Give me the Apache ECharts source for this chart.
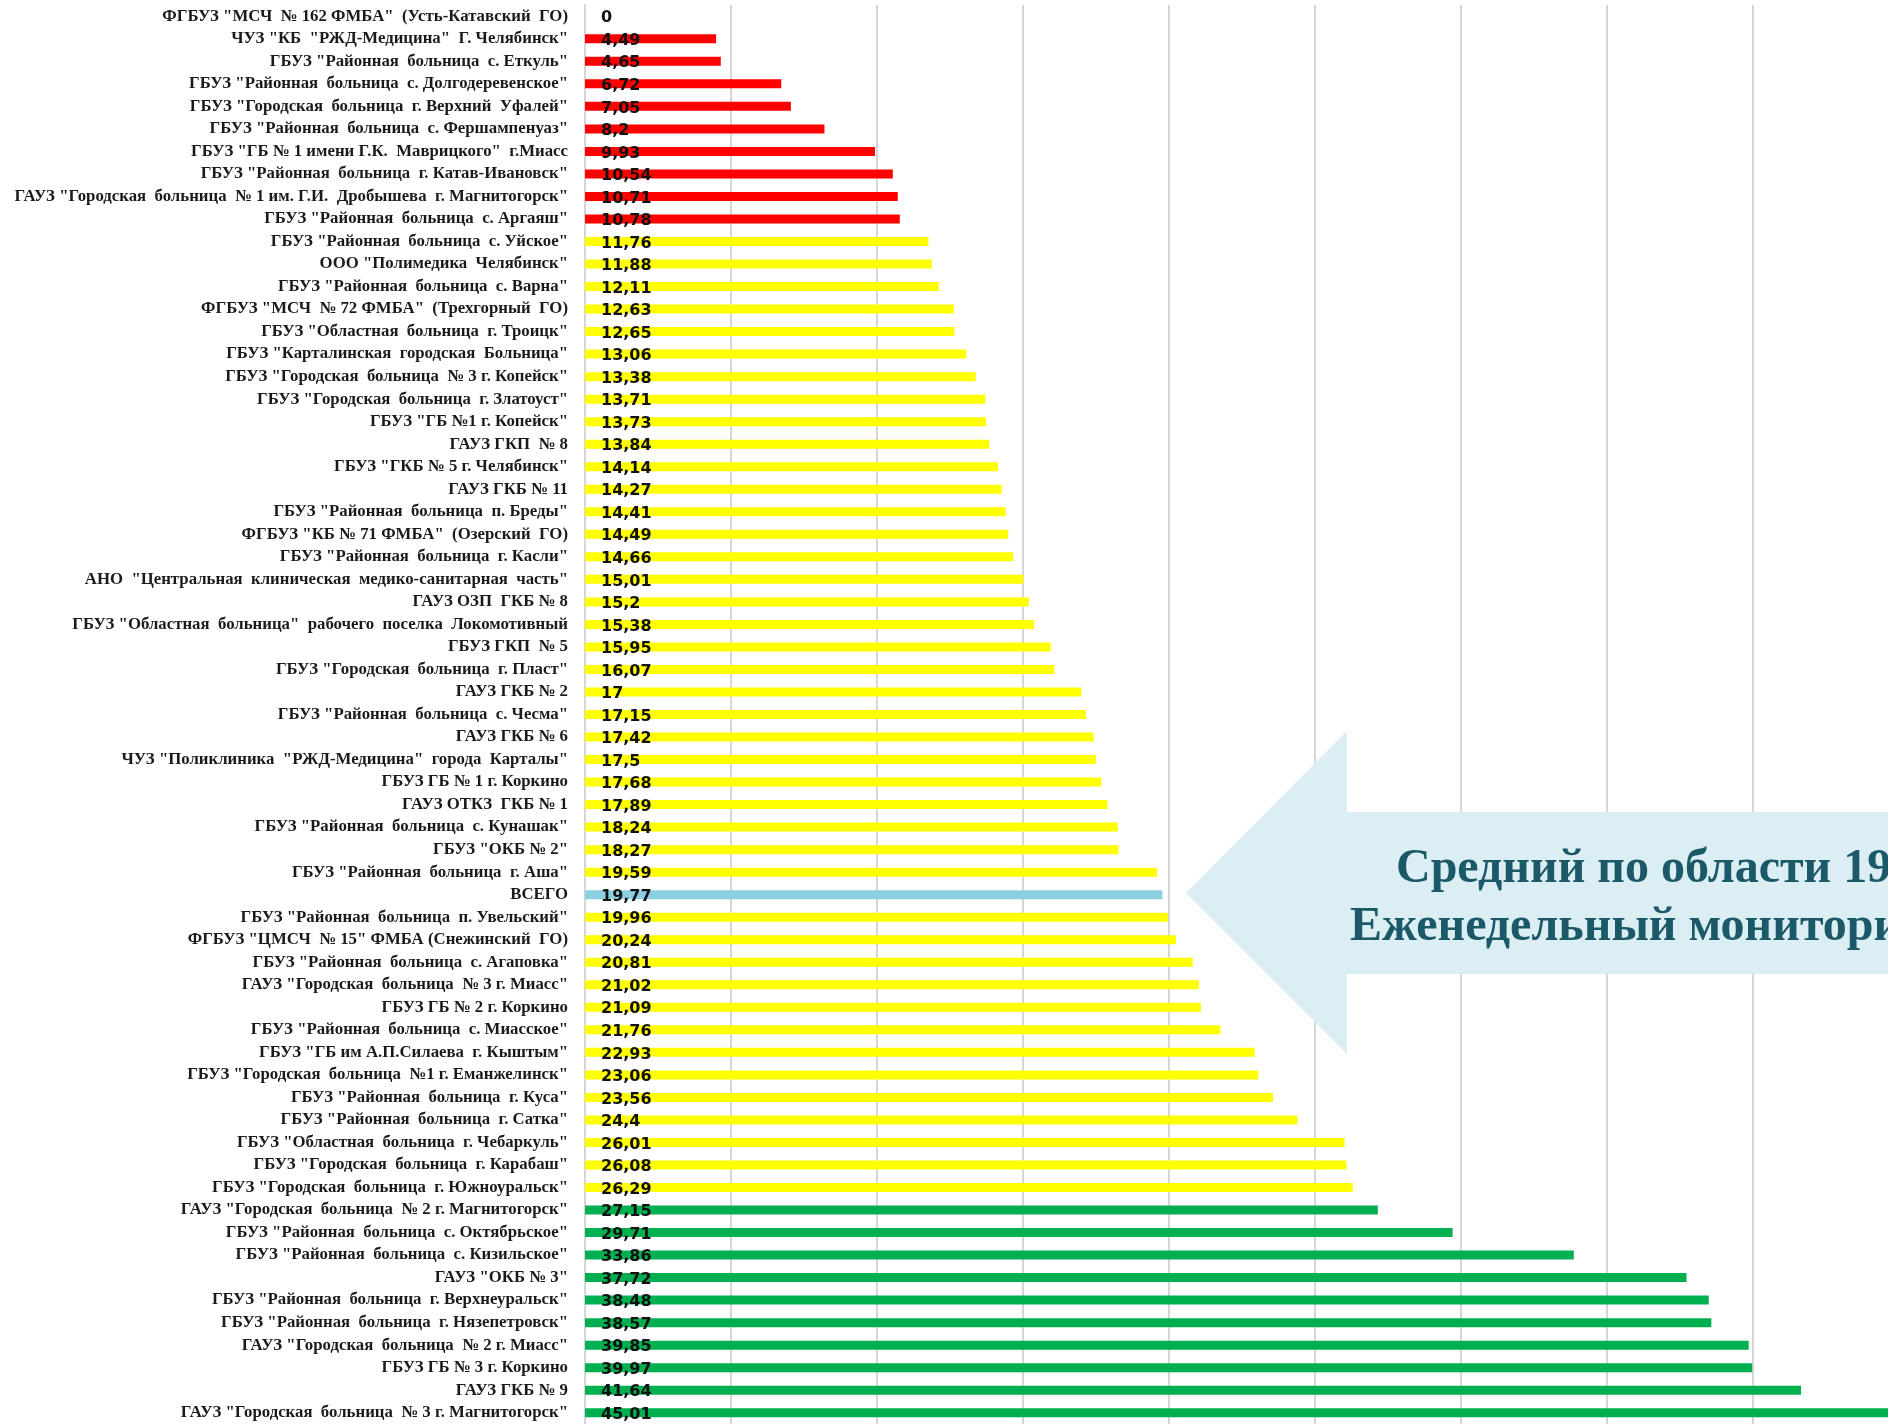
<!DOCTYPE html>
<html>
<head>
<meta charset="utf-8">
<script src="https://cdn.jsdelivr.net/npm/echarts@6/dist/echarts.min.js"></script>
<style>
  html, body { margin: 0; padding: 0; background: #fff; }
  #chart { width: 1888px; height: 1424px; }
</style>
</head>
<body>
<div id="chart"></div>
<script>
// categories, top to bottom
const hospitals = [
  'ФГБУЗ "МСЧ  № 162 ФМБА"  (Усть-Катавский  ГО)',
  'ЧУЗ "КБ  "РЖД-Медицина"  Г. Челябинск"',
  'ГБУЗ "Районная  больница  с. Еткуль"',
  'ГБУЗ "Районная  больница  с. Долгодеревенское"',
  'ГБУЗ "Городская  больница  г. Верхний  Уфалей"',
  'ГБУЗ "Районная  больница  с. Фершампенуаз"',
  'ГБУЗ "ГБ № 1 имени Г.К.  Маврицкого"  г.Миасс',
  'ГБУЗ "Районная  больница  г. Катав-Ивановск"',
  'ГАУЗ "Городская  больница  № 1 им. Г.И.  Дробышева  г. Магнитогорск"',
  'ГБУЗ "Районная  больница  с. Аргаяш"',
  'ГБУЗ "Районная  больница  с. Уйское"',
  'ООО "Полимедика  Челябинск"',
  'ГБУЗ "Районная  больница  с. Варна"',
  'ФГБУЗ "МСЧ  № 72 ФМБА"  (Трехгорный  ГО)',
  'ГБУЗ "Областная  больница  г. Троицк"',
  'ГБУЗ "Карталинская  городская  Больница"',
  'ГБУЗ "Городская  больница  № 3 г. Копейск"',
  'ГБУЗ "Городская  больница  г. Златоуст"',
  'ГБУЗ "ГБ №1 г. Копейск"',
  'ГАУЗ ГКП  № 8',
  'ГБУЗ "ГКБ № 5 г. Челябинск"',
  'ГАУЗ ГКБ № 11',
  'ГБУЗ "Районная  больница  п. Бреды"',
  'ФГБУЗ "КБ № 71 ФМБА"  (Озерский  ГО)',
  'ГБУЗ "Районная  больница  г. Касли"',
  'АНО  "Центральная  клиническая  медико-санитарная  часть"',
  'ГАУЗ ОЗП  ГКБ № 8',
  'ГБУЗ "Областная  больница"  рабочего  поселка  Локомотивный',
  'ГБУЗ ГКП  № 5',
  'ГБУЗ "Городская  больница  г. Пласт"',
  'ГАУЗ ГКБ № 2',
  'ГБУЗ "Районная  больница  с. Чесма"',
  'ГАУЗ ГКБ № 6',
  'ЧУЗ "Поликлиника  "РЖД-Медицина"  города  Карталы"',
  'ГБУЗ ГБ № 1 г. Коркино',
  'ГАУЗ ОТКЗ  ГКБ № 1',
  'ГБУЗ "Районная  больница  с. Кунашак"',
  'ГБУЗ "ОКБ № 2"',
  'ГБУЗ "Районная  больница  г. Аша"',
  'ВСЕГО',
  'ГБУЗ "Районная  больница  п. Увельский"',
  'ФГБУЗ "ЦМСЧ  № 15" ФМБА (Снежинский  ГО)',
  'ГБУЗ "Районная  больница  с. Агаповка"',
  'ГАУЗ "Городская  больница  № 3 г. Миасс"',
  'ГБУЗ ГБ № 2 г. Коркино',
  'ГБУЗ "Районная  больница  с. Миасское"',
  'ГБУЗ "ГБ им А.П.Силаева  г. Кыштым"',
  'ГБУЗ "Городская  больница  №1 г. Еманжелинск"',
  'ГБУЗ "Районная  больница  г. Куса"',
  'ГБУЗ "Районная  больница  г. Сатка"',
  'ГБУЗ "Областная  больница  г. Чебаркуль"',
  'ГБУЗ "Городская  больница  г. Карабаш"',
  'ГБУЗ "Городская  больница  г. Южноуральск"',
  'ГАУЗ "Городская  больница  № 2 г. Магнитогорск"',
  'ГБУЗ "Районная  больница  с. Октябрьское"',
  'ГБУЗ "Районная  больница  с. Кизильское"',
  'ГАУЗ "ОКБ № 3"',
  'ГБУЗ "Районная  больница  г. Верхнеуральск"',
  'ГБУЗ "Районная  больница  г. Нязепетровск"',
  'ГАУЗ "Городская  больница  № 2 г. Миасс"',
  'ГБУЗ ГБ № 3 г. Коркино',
  'ГАУЗ ГКБ № 9',
  'ГАУЗ "Городская  больница  № 3 г. Магнитогорск"'
];

const values = [
  0, 4.49, 4.65, 6.72, 7.05, 8.2, 9.93, 10.54, 10.71, 10.78,
  11.76, 11.88, 12.11, 12.63, 12.65, 13.06, 13.38, 13.71, 13.73, 13.84,
  14.14, 14.27, 14.41, 14.49, 14.66, 15.01, 15.2, 15.38, 15.95, 16.07,
  17, 17.15, 17.42, 17.5, 17.68, 17.89, 18.24, 18.27, 19.59, 19.77,
  19.96, 20.24, 20.81, 21.02, 21.09, 21.76, 22.93, 23.06, 23.56, 24.4,
  26.01, 26.08, 26.29, 27.15, 29.71, 33.86, 37.72, 38.48, 38.57, 39.85,
  39.97, 41.64, 45.01
];

// colour group of each row: r = red, y = yellow, b = total, g = green
const groups = [
  'r','r','r','r','r','r','r','r','r','r',
  'y','y','y','y','y','y','y','y','y','y',
  'y','y','y','y','y','y','y','y','y','y',
  'y','y','y','y','y','y','y','y','y','b',
  'y','y','y','y','y','y','y','y','y','y',
  'y','y','y','g','g','g','g','g','g','g',
  'g','g','g'
];

const calloutLines = ['Средний по области 19,77', 'Еженедельный мониторинг'];

const groupColors = { r: '#ff0000', y: '#ffff00', b: '#8ccfe0', g: '#00b050' };

const chart = echarts.init(document.getElementById('chart'));

const option = {
  backgroundColor: '#ffffff',
  animation: false,
  grid: {
    left: 585,
    right: 0,
    top: 5,
    bottom: -1
  },
  xAxis: {
    type: 'value',
    min: 0,
    // the source slide crops the axis at the right edge, a bit short of the last bar
    max: 44.62,
    interval: 5,
    axisLabel: { show: false },
    axisLine: { show: false },
    axisTick: { show: false },
    splitLine: {
      show: true,
      showMaxLine: false,
      lineStyle: { color: '#d6d6d6', width: 2 }
    }
  },
  yAxis: {
    type: 'category',
    inverse: true,
    data: hospitals,
    axisTick: { show: false },
    axisLine: { show: true, lineStyle: { color: '#d6d6d6', width: 2 } },
    axisLabel: {
      margin: 17,
      fontFamily: 'Liberation Serif',
      fontWeight: 'bold',
      fontSize: 16.8,
      color: '#1a1a1a'
    }
  },
  series: [
    {
      type: 'bar',
      barWidth: 9,
      clip: false,
      data: values.map((v, i) => ({
        value: v,
        itemStyle: { color: groupColors[groups[i]] }
      })),
      label: {
        show: true,
        position: 'insideLeft',
        distance: 16,
        offset: [0, 2],
        fontFamily: 'DejaVu Sans',
        fontWeight: 'bold',
        fontSize: 16,
        color: '#111',
        formatter: (p) => String(p.value).replace('.', ',')
      }
    }
  ],
  graphic: [
    {
      type: 'polygon',
      z: 50,
      shape: {
        points: [
          [1186, 893], [1347, 731], [1347, 812], [1900, 812],
          [1900, 974], [1347, 974], [1347, 1054]
        ]
      },
      style: { fill: '#daeef3' }
    },
    {
      type: 'text',
      z: 51,
      left: 1396,
      top: 846,
      style: {
        text: calloutLines[0],
        font: 'bold 48px "Liberation Serif"',
        fill: '#1b5968'
      }
    },
    {
      type: 'text',
      z: 51,
      left: 1350,
      top: 904,
      style: {
        text: calloutLines[1],
        font: 'bold 48px "Liberation Serif"',
        fill: '#1b5968'
      }
    }
  ]
};

chart.setOption(option);
window.addEventListener('resize', () => chart.resize());
</script>
</body>
</html>
